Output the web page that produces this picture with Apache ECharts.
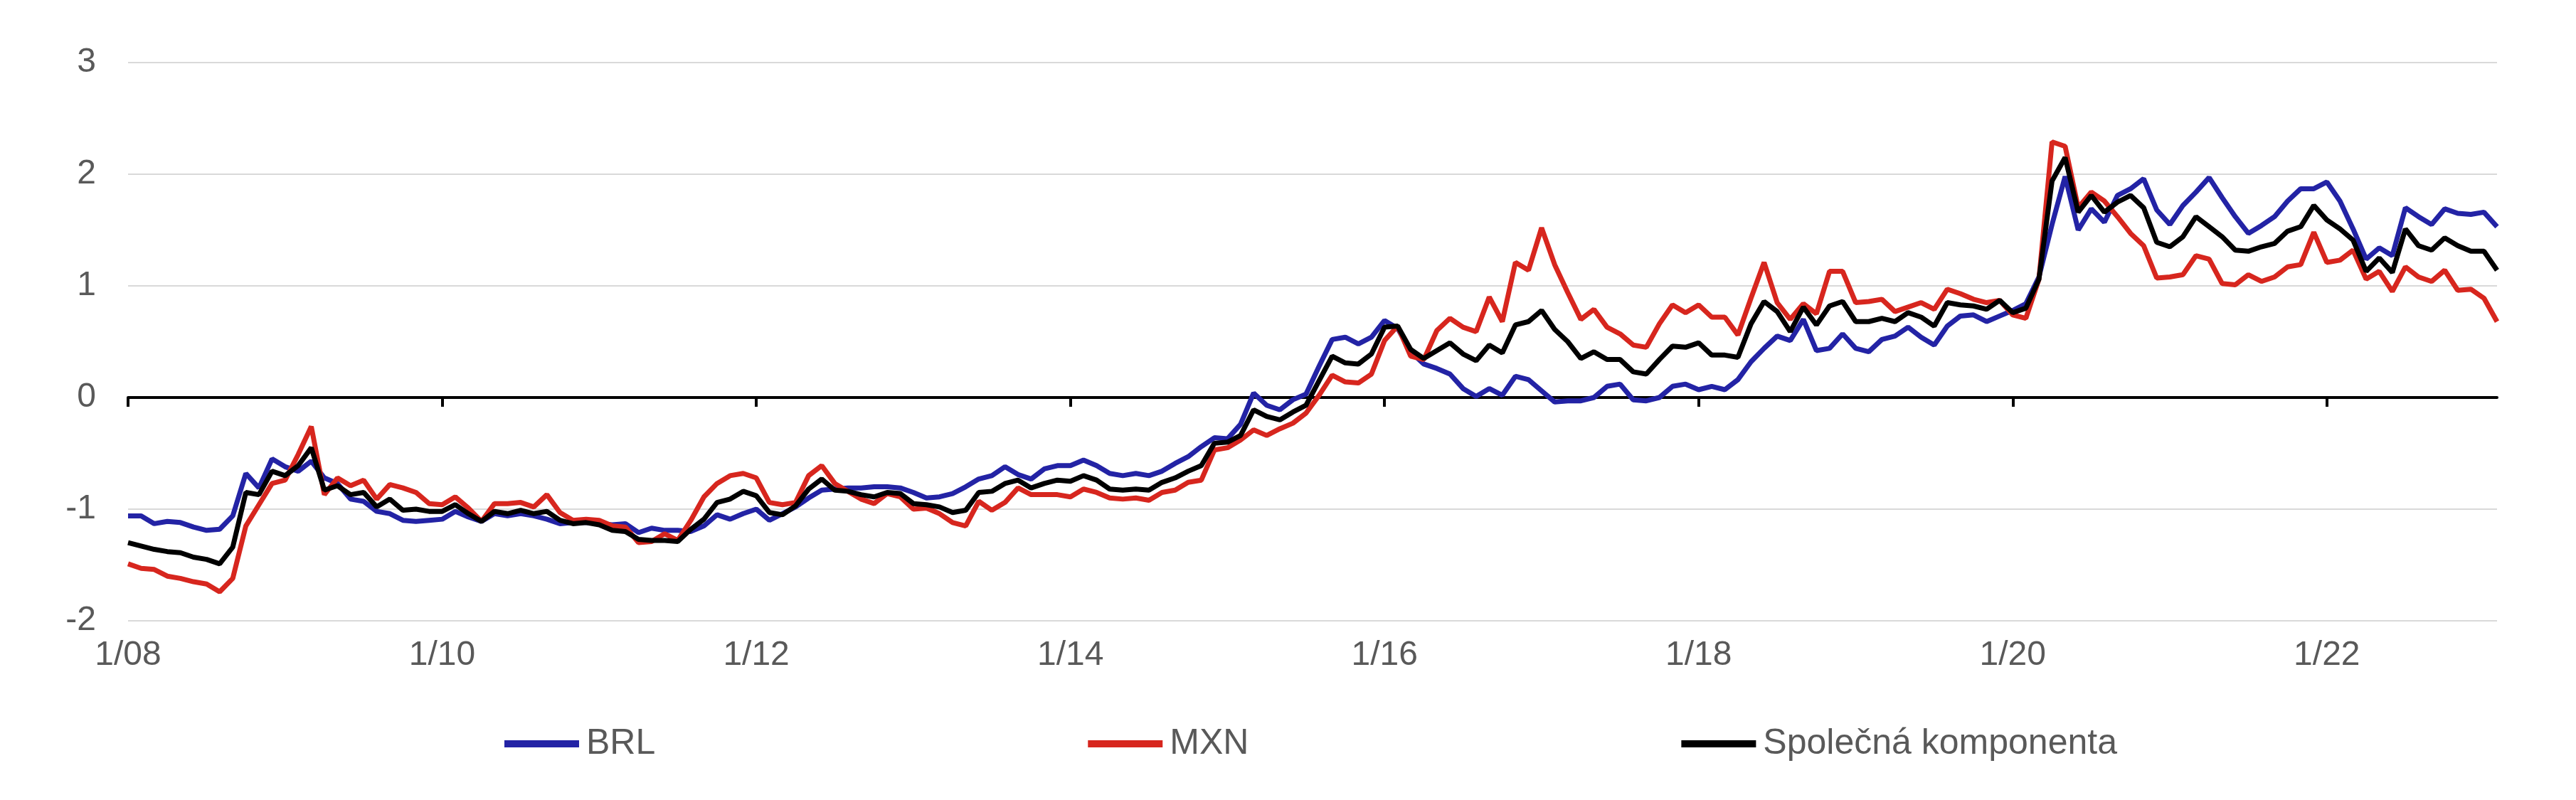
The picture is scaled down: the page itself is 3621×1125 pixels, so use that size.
<!DOCTYPE html>
<html>
<head>
<meta charset="utf-8">
<script src="https://cdn.jsdelivr.net/npm/echarts@6/dist/echarts.min.js"></script>
<style>
html,body{margin:0;padding:0;background:#fff;}
#chart{width:3621px;height:1125px;}
</style>
</head>
<body>
<div id="chart"></div>
<script>
// Monthly observations, Jan 2008 .. Feb 2023
const startYear = 2008;
const monthCount = 182;
const categories = [];
for (let i = 0; i < monthCount; i++) {
  const y = startYear + Math.floor(i / 12);
  const m = (i % 12) + 1;
  categories.push(m + '/' + String(y % 100).padStart(2, '0'));
}
const tickLabels = ['1/08','1/10','1/12','1/14','1/16','1/18','1/20','1/22'];
const yTicks = [-2, -1, 0, 1, 2, 3];

const BRL = [
-1.06,-1.06,-1.13,-1.11,-1.12,-1.16,-1.19,-1.18,-1.06,-0.68,-0.81,-0.55,
-0.62,-0.66,-0.57,-0.72,-0.77,-0.91,-0.93,-1.02,-1.04,-1.10,-1.11,-1.10,
-1.09,-1.02,-1.07,-1.11,-1.04,-1.06,-1.04,-1.06,-1.09,-1.13,-1.12,-1.12,
-1.13,-1.14,-1.13,-1.21,-1.17,-1.19,-1.19,-1.20,-1.15,-1.05,-1.09,-1.04,
-1.00,-1.10,-1.04,-0.98,-0.90,-0.83,-0.82,-0.81,-0.81,-0.80,-0.80,-0.81,
-0.85,-0.90,-0.89,-0.86,-0.80,-0.73,-0.70,-0.62,-0.69,-0.73,-0.64,-0.61,
-0.61,-0.56,-0.61,-0.68,-0.70,-0.68,-0.70,-0.66,-0.59,-0.53,-0.44,-0.36,
-0.37,-0.24,0.04,-0.07,-0.11,-0.02,0.03,0.28,0.52,0.54,0.48,0.54,
0.69,0.62,0.41,0.30,0.26,0.21,0.08,0.01,0.08,0.02,0.19,0.16,
0.06,-0.04,-0.03,-0.03,0.00,0.10,0.12,-0.02,-0.03,0.00,0.10,0.12,
0.07,0.10,0.07,0.16,0.32,0.44,0.55,0.51,0.70,0.42,0.44,0.57,
0.44,0.41,0.52,0.55,0.63,0.54,0.47,0.64,0.73,0.74,0.68,0.73,
0.78,0.84,1.08,1.55,1.98,1.50,1.69,1.57,1.81,1.87,1.96,1.68,
1.55,1.72,1.84,1.97,1.79,1.62,1.47,1.54,1.62,1.76,1.87,1.87,
1.93,1.76,1.51,1.24,1.34,1.27,1.70,1.62,1.55,1.69,1.65,1.64,
1.66,1.53
];

const MXN = [
-1.49,-1.53,-1.54,-1.60,-1.62,-1.65,-1.67,-1.74,-1.62,-1.15,-0.96,-0.77,
-0.74,-0.51,-0.26,-0.87,-0.72,-0.79,-0.74,-0.91,-0.78,-0.81,-0.85,-0.95,
-0.96,-0.89,-0.99,-1.11,-0.95,-0.95,-0.94,-0.98,-0.87,-1.03,-1.10,-1.09,
-1.10,-1.15,-1.16,-1.30,-1.29,-1.22,-1.28,-1.10,-0.89,-0.77,-0.70,-0.68,
-0.72,-0.94,-0.96,-0.94,-0.70,-0.61,-0.77,-0.84,-0.91,-0.95,-0.86,-0.89,
-1.00,-0.99,-1.04,-1.12,-1.15,-0.93,-1.01,-0.94,-0.81,-0.87,-0.87,-0.87,
-0.89,-0.82,-0.85,-0.90,-0.91,-0.90,-0.92,-0.85,-0.83,-0.76,-0.74,-0.47,
-0.45,-0.38,-0.29,-0.34,-0.28,-0.23,-0.14,0.02,0.20,0.14,0.13,0.21,
0.51,0.64,0.37,0.34,0.60,0.71,0.63,0.59,0.90,0.68,1.21,1.14,
1.52,1.19,0.94,0.70,0.79,0.63,0.57,0.47,0.45,0.66,0.83,0.76,
0.83,0.72,0.72,0.56,0.89,1.21,0.85,0.70,0.84,0.75,1.13,1.13,
0.85,0.86,0.88,0.77,0.81,0.85,0.79,0.97,0.93,0.88,0.85,0.87,
0.74,0.71,1.06,2.29,2.25,1.70,1.84,1.76,1.62,1.47,1.36,1.07,
1.08,1.10,1.27,1.24,1.02,1.01,1.10,1.04,1.08,1.17,1.19,1.48,
1.21,1.23,1.32,1.06,1.13,0.95,1.17,1.08,1.04,1.14,0.96,0.97,
0.89,0.68
];

const COMMON = [
-1.30,-1.33,-1.36,-1.38,-1.39,-1.43,-1.45,-1.49,-1.34,-0.85,-0.87,-0.66,
-0.70,-0.61,-0.45,-0.83,-0.79,-0.87,-0.85,-0.98,-0.91,-1.01,-1.00,-1.02,
-1.02,-0.96,-1.04,-1.11,-1.02,-1.04,-1.01,-1.04,-1.02,-1.10,-1.13,-1.12,
-1.14,-1.19,-1.20,-1.27,-1.28,-1.28,-1.29,-1.18,-1.09,-0.94,-0.91,-0.84,
-0.88,-1.03,-1.05,-0.97,-0.82,-0.73,-0.83,-0.84,-0.87,-0.89,-0.85,-0.86,
-0.95,-0.96,-0.98,-1.03,-1.01,-0.85,-0.84,-0.77,-0.74,-0.81,-0.77,-0.74,
-0.75,-0.70,-0.74,-0.82,-0.83,-0.82,-0.83,-0.76,-0.72,-0.66,-0.61,-0.41,
-0.40,-0.34,-0.11,-0.17,-0.20,-0.13,-0.07,0.15,0.37,0.31,0.30,0.39,
0.63,0.64,0.43,0.35,0.42,0.49,0.39,0.33,0.47,0.40,0.65,0.68,
0.78,0.61,0.50,0.35,0.41,0.34,0.34,0.23,0.21,0.34,0.46,0.45,
0.49,0.38,0.38,0.36,0.66,0.86,0.77,0.59,0.81,0.65,0.82,0.86,
0.68,0.68,0.71,0.68,0.76,0.72,0.64,0.85,0.83,0.82,0.79,0.87,
0.76,0.80,1.06,1.94,2.15,1.66,1.81,1.66,1.75,1.81,1.70,1.39,
1.35,1.44,1.62,1.53,1.44,1.32,1.31,1.35,1.38,1.49,1.53,1.72,
1.59,1.51,1.41,1.13,1.25,1.12,1.51,1.36,1.32,1.43,1.36,1.31,
1.31,1.14
];

const seriesNames = ['BRL', 'MXN', 'Společná komponenta'];
const seriesColors = ['#2323a5', '#d7261e', '#000000'];
const seriesData = [BRL, MXN, COMMON];

const FONT = '"Liberation Sans", Arial, sans-serif';
const TEXT = '#595959';
const isTick = (idx) => tickLabels.indexOf(categories[idx]) !== -1;

const chart = echarts.init(document.getElementById('chart'), null, {renderer: 'canvas'});
chart.setOption({
  animation: false,
  backgroundColor: '#ffffff',
  textStyle: {fontFamily: FONT},
  grid: {left: 180, right: 111, top: 88, bottom: 252, containLabel: false},
  legend: {
    data: seriesNames,
    left: 704,
    top: 1016,
    icon: 'rect',
    itemWidth: 105,
    itemHeight: 10,
    itemGap: 608,
    textStyle: {fontSize: 50, color: TEXT, fontFamily: FONT, padding: [0, 0, 0, 5]}
  },
  xAxis: [
    {
      type: 'category',
      data: categories,
      boundaryGap: false,
      position: 'bottom',
      axisLine: {show: false, onZero: false},
      axisTick: {show: false},
      splitLine: {show: false},
      axisLabel: {
        interval: isTick,
        fontSize: 48,
        color: TEXT,
        fontFamily: FONT,
        margin: 25
      }
    },
    {
      type: 'category',
      data: categories,
      boundaryGap: false,
      position: 'bottom',
      axisLine: {show: true, onZero: true, lineStyle: {color: '#000000', width: 4}},
      axisTick: {show: true, interval: isTick, length: 13, lineStyle: {color: '#000000', width: 4}},
      axisLabel: {show: false},
      splitLine: {show: false}
    }
  ],
  yAxis: {
    type: 'value',
    min: yTicks[0],
    max: yTicks[yTicks.length - 1],
    interval: 1,
    axisLine: {show: false},
    axisTick: {show: false},
    splitLine: {show: true, lineStyle: {color: '#d9d9d9', width: 2}},
    axisLabel: {fontSize: 48, color: TEXT, fontFamily: FONT, margin: 45}
  },
  series: seriesNames.map((name, i) => ({
    name: name,
    type: 'line',
    xAxisIndex: 0,
    data: seriesData[i],
    showSymbol: false,
    symbol: 'none',
    smooth: false,
    lineStyle: {color: seriesColors[i], width: 7},
    itemStyle: {color: seriesColors[i]},
    z: 2 + i
  }))
});
</script>
</body>
</html>
